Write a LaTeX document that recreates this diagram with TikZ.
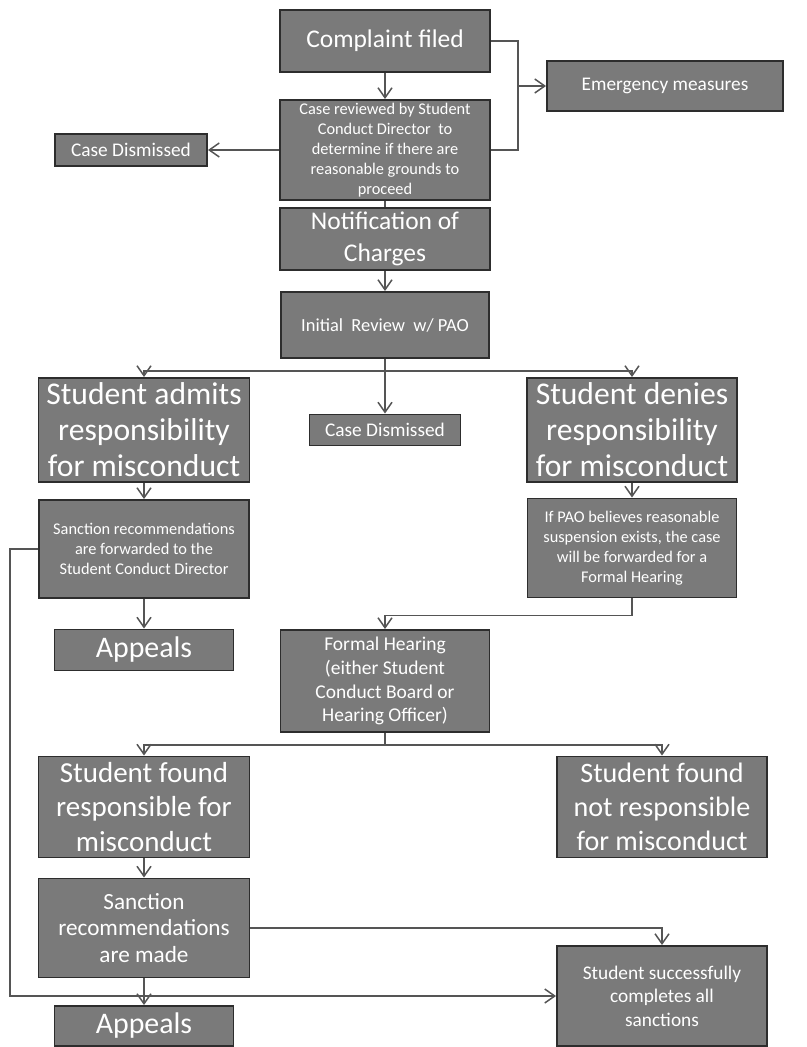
\documentclass[tikz,border=0pt]{standalone}
\usepackage{fontspec}
\setmainfont{Carlito}
\usetikzlibrary{arrows.meta}

\definecolor{boxfill}{RGB}{122,122,122}
\definecolor{boxline}{RGB}{45,45,45}
\definecolor{wire}{RGB}{85,85,85}

\begin{document}
\begin{tikzpicture}[x=0.02cm, y=-0.02cm, >={Straight Barb[length=2mm,width=2.8mm]},
    pbox/.style={draw=boxline, fill=boxfill, line width=1.1pt, text=white, align=center, inner sep=1pt},
    wh/.style 2 args={minimum width=#1*0.02cm, minimum height=#2*0.02cm},
    fbig/.style={font=\fontsize{18}{20.5}\selectfont},
    ftitle/.style={font=\fontsize{14.5}{18.5}\selectfont},
    fmid/.style={font=\fontsize{11}{13.3}\selectfont},
    fsmall/.style={font=\fontsize{9.3}{11.4}\selectfont},
    link/.style={draw=wire, line width=0.85pt}]

    \useasboundingbox (0,0) rectangle (806,1047);

    % Nodes
    \node [pbox, wh={210}{62}, ftitle]   (complaint) at (385,41)  {Complaint filed};
    \node [pbox, wh={236}{50}, fmid]     (emergency) at (665,86)  {Emergency measures};
    \node [pbox, wh={210}{100}, fsmall]  (review)    at (385,150) {Case reviewed by Student\\Conduct Director~ to\\determine if there are\\reasonable grounds to\\proceed};
    \node [pbox, wh={152}{32}, fmid]     (dismissA)  at (131,150) {Case Dismissed};
    \node [pbox, wh={210}{62}, ftitle]   (notify)    at (385,239) {Notification of\\Charges};
    \node [pbox, wh={208}{66}, font=\fontsize{10.5}{12.5}\selectfont] (initial) at (385,325) {Initial~ Review~ w/ PAO};

    \node [pbox, wh={211}{104}, fbig]    (admits)    at (144,430) {Student admits\\responsibility\\for misconduct};
    \node [pbox, wh={151}{31}, fmid]     (dismissB)  at (385,430) {Case Dismissed};
    \node [pbox, wh={210}{104}, fbig]    (denies)    at (632,430) {Student denies\\responsibility\\for misconduct};

    \node [pbox, wh={210}{98}, fsmall]   (forward)   at (144,549) {Sanction recommendations\\are forwarded to the\\Student Conduct Director};
    \node [pbox, wh={209}{99}, fsmall]   (pao)       at (632,548) {If PAO believes reasonable\\suspension exists, the case\\will be forwarded for a\\Formal Hearing};
    \node [pbox, wh={179}{41}, font=\fontsize{17}{19}\selectfont] (appealsA) at (144,650) {Appeals};
    \node [pbox, wh={209}{102}, font=\fontsize{11.1}{13.6}\selectfont] (formal) at (385,681) {Formal Hearing\\(either Student\\Conduct Board or\\Hearing Officer)};

    \node [pbox, wh={211}{101}, font=\fontsize{16.5}{19.5}\selectfont] (guilty)  at (144,807) {Student found\\responsible for\\misconduct};
    \node [pbox, wh={210}{101}, font=\fontsize{16}{19.5}\selectfont]   (cleared) at (662,807) {Student found\\not responsible\\for misconduct};
    \node [pbox, wh={211}{99}, font=\fontsize{13.2}{15.3}\selectfont]  (recommend) at (144,928) {Sanction\\recommendations\\are made};
    \node [pbox, wh={210}{100}, fmid]    (complete)  at (662,996) {Student successfully\\completes all\\sanctions};
    \node [pbox, wh={179}{40}, font=\fontsize{17}{19}\selectfont] (appealsB) at (144,1026) {Appeals};

    \coordinate (merge)  at (518,86);
    \coordinate (detour) at (10,996);

    % Paths
    \draw [link, ->] (complaint) edge (review);
    \draw [link] (complaint.east) -| (merge);
    \draw [link] (review.east) -| (merge);
    \draw [link, ->] (merge) -- (emergency.west);
    \draw [link, ->] (review) edge (dismissA);
    \draw [link] (review) edge (notify);
    \draw [link, ->] (notify) edge (initial);

    \draw [link] (initial.south) -- ++(0,12) coordinate (split);
    \draw [link, ->] (split) -| (admits.north);
    \draw [link, ->] (split) -| (denies.north);
    \draw [link, ->] (split) -- (dismissB.north);

    \draw [link, ->] (admits) edge (forward);
    \draw [link, ->] (forward) edge (appealsA);
    \draw [link, ->] (denies) edge (pao);
    \draw [link, ->] (pao.south) -- ++(0,17) -| (formal.north);

    \draw [link] (formal.south) -- ++(0,12) coordinate (verdict);
    \draw [link, ->] (verdict) -| (guilty.north);
    \draw [link, ->] (verdict) -| (cleared.north);

    \draw [link, ->] (guilty) edge (recommend);
    \draw [link, ->] (recommend.east) -| (complete.north);
    \draw [link, ->] (recommend) edge (appealsB);
    \draw [link, ->] (forward.west) -| (detour) -- (complete.west);

\end{tikzpicture}
\end{document}
